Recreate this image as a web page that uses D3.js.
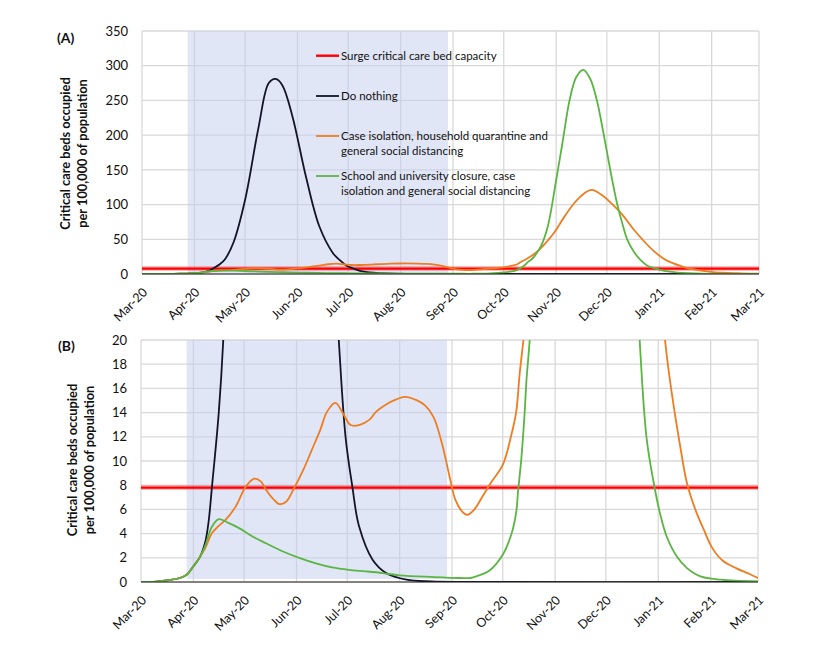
<!DOCTYPE html>
<html>
<head>
<meta charset="utf-8">
<script src="https://cdn.jsdelivr.net/npm/d3@7"></script>
<style>
  body { margin: 0; background: #fff; }
  text { font-family: Lato, "Open Sans", sans-serif; fill: #111; }
</style>
</head>
<body>
<svg width="834" height="651"></svg>
<script>
// values (per 100,000 population)
const surgeCapacity = 7.8;
const lockdownPeriod = ['2020-03-28', '2020-08-29'];

const doNothing = [
    ['2020-03-01', 0], ['2020-03-10', 0.03], ['2020-03-16', 0.13], ['2020-03-24', 0.33],
    ['2020-03-28', 0.6], ['2020-04-01', 1.3], ['2020-04-05', 2.1], ['2020-04-08', 3.3],
    ['2020-04-10', 5.0], ['2020-04-12', 7.9], ['2020-04-16', 14], ['2020-04-19', 21],
    ['2020-04-24', 44.6], ['2020-05-01', 107], ['2020-05-09', 212], ['2020-05-15', 275],
    ['2020-05-19', 281], ['2020-05-23', 272], ['2020-05-29', 227], ['2020-06-06', 140],
    ['2020-06-14', 68], ['2020-06-22', 30], ['2020-06-26', 20], ['2020-06-30', 12],
    ['2020-07-04', 7.9], ['2020-07-08', 4.6], ['2020-07-16', 1.84], ['2020-07-24', 0.74],
    ['2020-08-05', 0.19], ['2020-08-20', 0.05], ['2020-09-10', 0.01], ['2021-03-01', 0]
];

const caseIsolation = [
    ['2020-03-01', 0], ['2020-03-10', 0.03], ['2020-03-16', 0.13], ['2020-03-24', 0.33],
    ['2020-03-28', 0.6], ['2020-04-01', 1.3], ['2020-04-05', 2.1], ['2020-04-08', 2.8],
    ['2020-04-12', 4.04], ['2020-04-16', 4.64], ['2020-04-20', 5.13], ['2020-04-26', 6.23],
    ['2020-05-02', 7.88], ['2020-05-07', 8.54], ['2020-05-11', 8.3], ['2020-05-14', 7.6],
    ['2020-05-18', 6.9], ['2020-05-22', 6.43], ['2020-05-26', 6.65], ['2020-05-30', 7.6],
    ['2020-06-05', 9.26], ['2020-06-10', 10.9], ['2020-06-15', 12.55], ['2020-06-19', 14.06],
    ['2020-06-24', 14.8], ['2020-06-28', 14.06], ['2020-07-03', 12.97], ['2020-07-08', 12.97],
    ['2020-07-14', 13.4], ['2020-07-18', 14.06], ['2020-07-24', 14.67], ['2020-07-30', 15.09],
    ['2020-08-04', 15.3], ['2020-08-11', 15.03], ['2020-08-16', 14.6], ['2020-08-21', 13.65],
    ['2020-08-26', 11.46], ['2020-08-31', 8.43], ['2020-09-03', 6.78], ['2020-09-07', 5.82],
    ['2020-09-10', 5.55], ['2020-09-14', 5.96], ['2020-09-19', 7.06], ['2020-09-24', 8.2],
    ['2020-10-01', 9.67], ['2020-10-06', 12.1], ['2020-10-09', 14.1], ['2020-10-11', 17.2],
    ['2020-10-14', 21], ['2020-10-18', 27], ['2020-10-22', 35], ['2020-10-27', 48],
    ['2020-10-31', 60], ['2020-11-06', 83], ['2020-11-12', 103], ['2020-11-17', 115],
    ['2020-11-22', 121.3], ['2020-11-29', 112], ['2020-12-04', 101], ['2020-12-10', 86],
    ['2020-12-17', 63.7], ['2020-12-29', 32.5], ['2021-01-05', 20], ['2021-01-09', 15.6],
    ['2021-01-14', 11.2], ['2021-01-18', 8.16], ['2021-01-23', 5.96], ['2021-01-28', 4.3],
    ['2021-02-02', 2.8], ['2021-02-08', 1.78], ['2021-02-16', 1.15], ['2021-02-24', 0.66],
    ['2021-03-01', 0.33]
];

const schoolClosure = [
    ['2020-03-01', 0], ['2020-03-10', 0.03], ['2020-03-16', 0.13], ['2020-03-24', 0.33],
    ['2020-03-28', 0.6], ['2020-04-01', 1.3], ['2020-04-05', 2.1], ['2020-04-08', 3.0],
    ['2020-04-12', 4.58], ['2020-04-16', 5.19], ['2020-04-22', 4.86], ['2020-04-28', 4.45],
    ['2020-05-06', 3.76], ['2020-05-14', 3.2], ['2020-05-24', 2.52], ['2020-06-03', 1.97],
    ['2020-06-13', 1.51], ['2020-06-22', 1.2], ['2020-07-02', 1.0], ['2020-07-12', 0.88],
    ['2020-07-22', 0.74], ['2020-08-01', 0.55], ['2020-08-21', 0.41], ['2020-09-06', 0.33],
    ['2020-09-12', 0.33], ['2020-09-16', 0.5], ['2020-09-23', 0.93], ['2020-10-01', 2.25],
    ['2020-10-06', 3.9], ['2020-10-09', 5.8], ['2020-10-10', 7.4], ['2020-10-12', 10.2],
    ['2020-10-14', 14.1], ['2020-10-15', 16.6], ['2020-10-17', 20.1], ['2020-10-19', 25],
    ['2020-10-23', 40], ['2020-10-27', 68], ['2020-11-01', 135], ['2020-11-05', 193],
    ['2020-11-09', 251], ['2020-11-13', 284], ['2020-11-17', 294], ['2020-11-21', 282],
    ['2020-11-25', 251], ['2020-11-29', 203], ['2020-12-03', 150], ['2020-12-07', 102],
    ['2020-12-10', 74], ['2020-12-13', 50], ['2020-12-17', 32], ['2020-12-21', 20],
    ['2020-12-25', 12], ['2020-12-29', 8.43], ['2021-01-02', 5.69], ['2021-01-06', 3.76],
    ['2021-01-12', 2.1], ['2021-01-18', 1.15], ['2021-01-26', 0.46], ['2021-02-07', 0.19],
    ['2021-03-01', 0.05]
];

const legendLines = [
    ['Surge critical care bed capacity'],
    ['Do nothing'],
    ['Case isolation, household quarantine and', 'general social distancing'],
    ['School and university closure, case', 'isolation and general social distancing']
];
const yTitle = ['Critical care beds occupied', 'per 100,000 of population'];

const colors = ['#ff0000', '#141428', '#ee7d22', '#5ab543'];

const parseDate = d3.timeParse('%Y-%m-%d');
const series = [doNothing, caseIsolation, schoolClosure].map(s => s.map(([d, v]) => ({ date: parseDate(d), value: v })));

const svg = d3.select('svg');

const drawPanel = (box, yMax, yStep, label, shadeFloor, id) => {
    const innerWidth = box.right - box.left;
    const innerHeight = box.bottom - box.top;

    const xScale = d3.scaleTime()
        .domain([parseDate('2020-03-01'), parseDate('2021-03-01')])
        .range([0, innerWidth]);
    const yScale = d3.scaleLinear()
        .domain([0, yMax])
        .range([innerHeight, 0]);

    const g = svg.append('g')
        .attr('transform', `translate(${box.left},${box.top})`);

    g.append('clipPath').attr('id', id)
        .append('rect')
        .attr('x', 0).attr('y', 0)
        .attr('width', innerWidth).attr('height', innerHeight);

    const months = d3.timeMonth.range(xScale.domain()[0], d3.timeDay.offset(xScale.domain()[1], 1));
    const yTicks = d3.range(0, yMax + yStep / 2, yStep);

    // grid
    g.append('g')
        .selectAll('line').data(yTicks).enter().append('line')
        .attr('x1', 0).attr('x2', innerWidth)
        .attr('y1', d => yScale(d)).attr('y2', d => yScale(d))
        .attr('stroke', '#d9d9d9').attr('stroke-width', 1.3);
    g.append('g')
        .selectAll('line').data(months).enter().append('line')
        .attr('x1', d => xScale(d)).attr('x2', d => xScale(d))
        .attr('y1', 0).attr('y2', innerHeight)
        .attr('stroke', '#d9d9d9').attr('stroke-width', 1.3);

    // intervention period
    g.append('rect')
        .attr('x', xScale(parseDate(lockdownPeriod[0])))
        .attr('y', 0)
        .attr('width', xScale(parseDate(lockdownPeriod[1])) - xScale(parseDate(lockdownPeriod[0])))
        .attr('height', yScale(shadeFloor))
        .attr('fill', '#c3cdee')
        .attr('fill-opacity', 0.5);

    // y tick labels
    g.append('g')
        .call(d3.axisLeft(yScale).tickValues(yTicks).tickSize(0).tickPadding(14))
        .call(a => a.select('.domain').remove())
        .selectAll('text')
        .style('font-size', '13px')
        .style('font-family', 'Lato, sans-serif')
        .attr('fill', '#111');

    // x tick labels
    g.append('g')
        .attr('transform', `translate(0,${innerHeight})`)
        .selectAll('text').data(months).enter().append('text')
        .attr('transform', d => `translate(${xScale(d) + 3},${16}) rotate(-45)`)
        .attr('dy', '0.35em')
        .style('text-anchor', 'end')
        .style('font-size', '12.5px')
        .text(d3.timeFormat('%b-%y'));

    // surge capacity
    g.append('line')
        .attr('x1', 0).attr('x2', innerWidth)
        .attr('y1', yScale(surgeCapacity)).attr('y2', yScale(surgeCapacity))
        .attr('stroke', '#ff0000').attr('stroke-opacity', 0.25).attr('stroke-width', 5);
    g.append('line')
        .attr('x1', 0).attr('x2', innerWidth)
        .attr('y1', yScale(surgeCapacity)).attr('y2', yScale(surgeCapacity))
        .attr('stroke', '#ff0000').attr('stroke-width', 2.4);

    const line = d3.line()
        .x(d => xScale(d.date))
        .y(d => yScale(d.value))
        .curve(d3.curveCatmullRom.alpha(0.5));

    g.append('g')
        .attr('clip-path', `url(#${id})`)
        .selectAll('path').data(series).enter().append('path')
        .attr('d', line)
        .attr('fill', 'none')
        .attr('stroke', (d, i) => colors[i + 1])
        .attr('stroke-width', 1.8);

    // bottom axis line
    g.append('line')
        .attr('x1', 0).attr('x2', innerWidth)
        .attr('y1', innerHeight).attr('y2', innerHeight)
        .attr('stroke', '#222').attr('stroke-width', 1);

    // y title
    g.append('text')
        .attr('transform', `translate(${box.titleX - box.left},${innerHeight / 2 + box.titleDy}) rotate(-90)`)
        .style('text-anchor', 'middle')
        .style('font-size', '12.8px')
        .style('font-weight', 'bold')
        .selectAll('tspan').data(yTitle).enter().append('tspan')
        .attr('x', 0)
        .attr('dy', (d, i) => i === 0 ? 0 : '1.35em')
        .text(d => d);

    svg.append('text')
        .attr('x', box.labelX).attr('y', box.labelY)
        .style('font-size', '14px')
        .style('font-weight', 'bold')
        .text(label);
};

drawPanel({ left: 142, right: 759, top: 31, bottom: 274, titleX: 70, titleDy: 1, labelX: 57, labelY: 43 },
    350, 50, '(A)', 0, 'clipA');
drawPanel({ left: 141, right: 758, top: 340, bottom: 582, titleX: 77, titleDy: -1, labelX: 58, labelY: 351 },
    20, 2, '(B)', 0.25, 'clipB');

// legend in panel A
const legendY = [55.7, 96, 136, 176];
const legend = svg.append('g');
legendLines.forEach((lines, i) => {
    legend.append('line')
        .attr('x1', 316).attr('x2', 339)
        .attr('y1', legendY[i]).attr('y2', legendY[i])
        .attr('stroke', colors[i]).attr('stroke-width', i === 0 ? 2.4 : 1.8);
    const t = legend.append('text')
        .attr('x', 341).attr('y', legendY[i])
        .style('font-size', '11.5px');
    t.selectAll('tspan').data(lines).enter().append('tspan')
        .attr('x', 341)
        .attr('dy', (d, j) => j === 0 ? '0.35em' : '1.3em')
        .text(d => d);
});
</script>
</body>
</html>
